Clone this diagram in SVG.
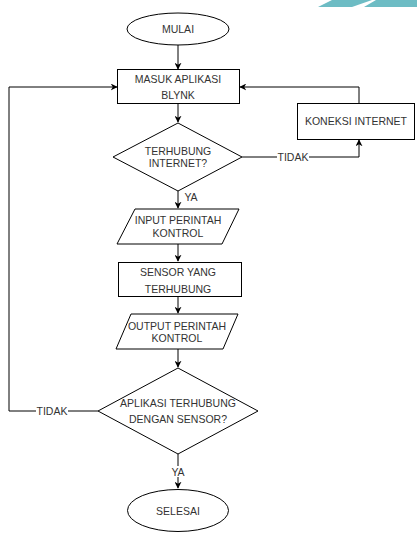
<svg xmlns="http://www.w3.org/2000/svg" width="417" height="534" viewBox="0 0 417 534">
<style>
.s{fill:#fff;stroke:#000;stroke-width:1}
.t{font-family:"Liberation Sans",Arial,sans-serif;font-size:10.5px;fill:#333;text-anchor:middle}
.c{fill:none;stroke:#000;stroke-width:1}
.lb{fill:#fff}
</style>
<defs>
<marker id="a" viewBox="0 0 10 10" refX="9" refY="5" markerWidth="7" markerHeight="7" orient="auto" markerUnits="userSpaceOnUse">
<path d="M0,0 L10,5 L0,10 L3,5 Z" fill="#000"/>
</marker>
</defs>
<rect width="417" height="534" fill="#fff"/>
<g id="deco">
<polygon points="318,7 332,0 372,0 352,7" fill="#6dbcc4"/>
<polygon points="364,7 376,0 417,0 417,7" fill="#6dbcc4"/>
</g>
<g id="connectors">
<path class="c" d="M178,45 V69" marker-end="url(#a)"/>
<path class="c" d="M178,104 V122" marker-end="url(#a)"/>
<path class="c" d="M178,191 V208" marker-end="url(#a)"/>
<path class="c" d="M178,244 V261" marker-end="url(#a)"/>
<path class="c" d="M178,297 V313" marker-end="url(#a)"/>
<path class="c" d="M178,349 V367" marker-end="url(#a)"/>
<path class="c" d="M178,454 V488" marker-end="url(#a)"/>
<path class="c" d="M242,157 H359 V140" marker-end="url(#a)"/>
<path class="c" d="M359,103 V87 H240" marker-end="url(#a)"/>
<path class="c" d="M98,411 H9 V87 H117" marker-end="url(#a)"/>
<rect class="lb" x="277" y="151" width="32" height="12"/>
<text class="t" x="293" y="161">TIDAK</text>
<rect class="lb" x="36" y="405" width="32" height="12"/>
<text class="t" x="52" y="415">TIDAK</text>
<rect class="lb" x="183" y="192" width="14" height="11"/>
<text class="t" x="191" y="201">YA</text>
<rect class="lb" x="171" y="466" width="14" height="11"/>
<text class="t" x="178" y="476">YA</text>
</g>
<g id="mulai">
<ellipse class="s" cx="178" cy="29" rx="51" ry="16"/>
<text class="t" x="178" y="33">MULAI</text>
</g>
<g id="masuk">
<rect class="s" x="117.5" y="69.5" width="122" height="34"/>
<text class="t" x="178" y="83">MASUK APLIKASI</text>
<text class="t" x="178" y="99">BLYNK</text>
</g>
<g id="koneksi">
<rect class="s" x="297.5" y="103.5" width="117" height="36"/>
<text class="t" x="356" y="125">KONEKSI INTERNET</text>
</g>
<g id="terhubung">
<polygon class="s" points="178,123 242,157 178,191 113,157"/>
<text class="t" x="178" y="155">TERHUBUNG</text>
<text class="t" x="178" y="167">INTERNET?</text>
</g>
<g id="input">
<polygon class="s" points="135,209 239,209 222,244 117,244"/>
<text class="t" x="178" y="224">INPUT PERINTAH</text>
<text class="t" x="178" y="237">KONTROL</text>
</g>
<g id="sensor">
<rect class="s" x="118.5" y="262.5" width="123" height="34"/>
<text class="t" x="178" y="276">SENSOR YANG</text>
<text class="t" x="178" y="293">TERHUBUNG</text>
</g>
<g id="output">
<polygon class="s" points="131,314 238,314 223,349 116,349"/>
<text class="t" x="177" y="330">OUTPUT PERINTAH</text>
<text class="t" x="177" y="342">KONTROL</text>
</g>
<g id="aplikasi">
<polygon class="s" points="178,368 258,411 178,454 98,411"/>
<text class="t" x="178" y="407">APLIKASI TERHUBUNG</text>
<text class="t" x="178" y="423">DENGAN SENSOR?</text>
</g>
<g id="selesai">
<ellipse class="s" cx="178" cy="510.5" rx="50.5" ry="21"/>
<text class="t" x="178" y="515">SELESAI</text>
</g>
</svg>
